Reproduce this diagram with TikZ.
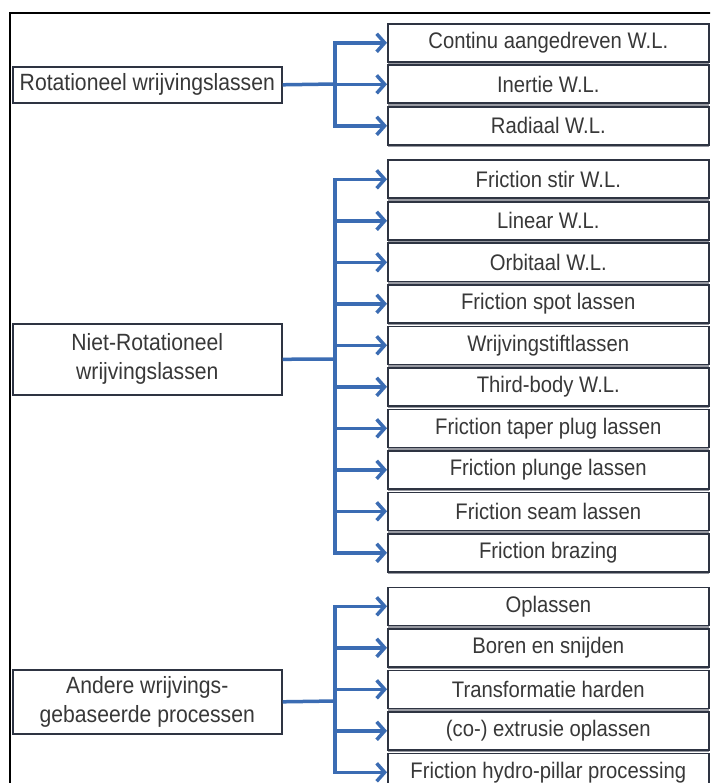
\documentclass[tikz,border=0pt]{standalone}
\usepackage{fontspec}
\setmainfont[FakeStretch=0.9]{Liberation Sans}
\usetikzlibrary{arrows.meta,shadows}
\definecolor{connc}{HTML}{3B6CB3}
\definecolor{boxline}{HTML}{2E3442}
\definecolor{txt}{HTML}{383838}
\begin{document}
\begin{tikzpicture}[x=1pt,y=-1pt,
  item/.style={draw=boxline, line width=1.6pt, fill=white, minimum width=321pt,
    minimum height=38pt, inner sep=0pt, anchor=north west, text=txt,
    font=\fontsize{22.5}{26}\selectfont,
    drop shadow={shadow xshift=0pt, shadow yshift=-2.5pt, fill=boxline!55, opacity=0.9}},
  groupbox/.style={draw=boxline, line width=1.6pt, fill=white, inner sep=0pt,
    minimum width=269pt, anchor=north west, text=txt, align=center,
    font=\fontsize{23.5}{29}\selectfont},
  connline/.style={draw=connc, line width=3.5pt},
  arr/.style={connline, -{Straight Barb[length=8pt,width=18pt]}}]
\useasboundingbox (0,0) rectangle (710,783);
\clip (0,0) rectangle (710,783);
\fill[white] (0,0) rectangle (710,783);
% frame
\draw[black, line width=1.2pt] (10,790) -- (10,13) -- (712,13);
% right boxes
\foreach \i/\y/\t in {
  0/23/{Continu aangedreven W.L.},
  1/64.5/{Inertie W.L.},
  2/106/{Radiaal W.L.},
  3/159.5/{Friction stir W.L.},
  4/201/{Linear W.L.},
  5/242.5/{Orbitaal W.L.},
  6/284/{Friction spot lassen},
  7/325.5/{Wrijvingstiftlassen},
  8/367/{Third-body W.L.},
  9/408.5/{Friction taper plug lassen},
  10/450/{Friction plunge lassen},
  11/491.5/{Friction seam lassen},
  12/533/{Friction brazing},
  13/586.5/{Oplassen},
  14/628/{Boren en snijden},
  15/669.5/{Transformatie harden},
  16/711/{(co-) extrusie oplassen},
  17/752.5/{Friction hydro-pillar processing}}
  {\node[item] (r\i) at (387,\y) {\t};}
% left boxes
\node[groupbox, minimum height=36pt] (L1) at (12,66) {Rotationeel wrijvingslassen};
\node[groupbox, minimum height=71pt] (L2) at (12,323) {Niet-Rotationeel\\wrijvingslassen};
\node[groupbox, minimum height=64pt] (L3) at (12,669) {Andere wrijvings-\\gebaseerde processen};
% junctions
\coordinate (j1) at (335,84);
\coordinate (j2) at (335,359);
\coordinate (j3) at (335,701);
\draw[connline] (L1.east) -- (j1);
\draw[connline] (L2.east) -- (j2);
\draw[connline] (L3.east) -- (j3);
\draw[connline, line cap=rect] (r0.west -| j1) -- (r2.west -| j1);
\draw[connline, line cap=rect] (r3.west -| j2) -- (r12.west -| j2);
\draw[connline, line cap=rect] (r13.west -| j3) -- (r17.west -| j3);
\foreach \i/\j in {0/j1,1/j1,2/j1,3/j2,4/j2,5/j2,6/j2,7/j2,8/j2,9/j2,10/j2,11/j2,12/j2,13/j3,14/j3,15/j3,16/j3,17/j3}
  {\draw[arr] (r\i.west -| \j) -- (r\i.west);}
\end{tikzpicture}
\end{document}
